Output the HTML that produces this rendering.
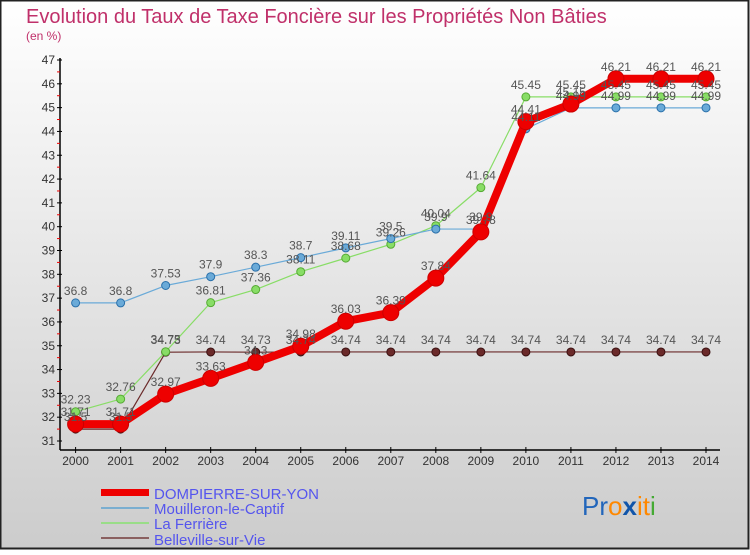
<!DOCTYPE html>
<html><head><meta charset="utf-8"><style>
html,body{margin:0;padding:0}
body{width:750px;height:550px;overflow:hidden;font-family:"Liberation Sans","DejaVu Sans",sans-serif}
</style></head><body>
<svg id="chart" width="750" height="550" xmlns="http://www.w3.org/2000/svg">
<defs><linearGradient id="bg" x1="0" y1="0" x2="0" y2="1"><stop offset="0" stop-color="#ffffff"/><stop offset="1" stop-color="#cccccc"/></linearGradient></defs>
<rect x="0.5" y="0.5" width="748" height="548" fill="url(#bg)" stroke="#222" stroke-width="2"/>
<text x="26" y="23" font-size="20" fill="#c0306a">Evolution du Taux de Taxe Foncière sur les Propriétés Non Bâties</text>
<text x="26" y="40" font-size="12" fill="#c0306a">(en %)</text>
<g id="axes"></g>
<g id="series"></g>
<g id="labels"></g>
<g font-size="15" fill="#5555ee">
<rect x="101" y="489" width="48" height="7" fill="#ee0000"/>
<text x="154" y="499">DOMPIERRE-SUR-YON</text>
<rect x="101" y="507" width="48" height="2" fill="#7aaed0"/>
<text x="154" y="514">Mouilleron-le-Captif</text>
<rect x="101" y="522" width="48" height="2" fill="#99dd88"/>
<text x="154" y="529">La Ferrière</text>
<rect x="101" y="537" width="48" height="2" fill="#8a6060"/>
<text x="154" y="545">Belleville-sur-Vie</text>
</g>
<g font-size="26">
<text x="582" y="515" fill="#2266bb"><tspan>Pr</tspan><tspan fill="#ff8800">o</tspan><tspan fill="#1155aa" font-weight="bold">x</tspan><tspan fill="#ff8800">i</tspan><tspan fill="#ff8800">t</tspan><tspan fill="#44aa33">i</tspan></text>
</g>
</svg>
<script>
const years=[2000,2001,2002,2003,2004,2005,2006,2007,2008,2009,2010,2011,2012,2013,2014];
const dompierre=[31.71,31.71,32.97,33.63,34.3,34.98,36.03,36.39,37.84,39.78,44.41,45.15,46.21,46.21,46.21];
const mouilleron=[36.8,36.8,37.53,37.9,38.3,38.7,39.11,39.5,39.9,39.9,44.11,44.99,44.99,44.99,44.99];
const ferriere=[32.23,32.76,34.75,36.81,37.36,38.11,38.68,39.26,40.04,41.64,45.45,45.45,45.45,45.45,45.45];
const belleville=[31.5,31.5,34.73,34.74,34.73,34.74,34.74,34.74,34.74,34.74,34.74,34.74,34.74,34.74,34.74];
const yTicks=[31,32,33,34,35,36,37,38,39,40,41,42,43,44,45,46,47];
const NS="http://www.w3.org/2000/svg";
const x=i=>75.6+i*(706-75.6)/14;
const y=v=>441-(v-31)*(441-60)/16;
function mk(tag,attrs,parent){const e=document.createElementNS(NS,tag);for(const k in attrs)e.setAttribute(k,attrs[k]);parent.appendChild(e);return e;}
const axes=document.getElementById('axes'),ser=document.getElementById('series'),lab=document.getElementById('labels');
let yl=mk('line',{x1:60,y1:58,x2:60,y2:450,stroke:'#000','stroke-width':1.5},axes);


let xl=mk('line',{x1:60,y1:450,x2:720,y2:450,stroke:'#000','stroke-width':1.5},axes);


yTicks.forEach((t,i)=>{
 mk('line',{x1:57,y1:y(t),x2:62,y2:y(t),stroke:'#000'},axes);
 if(i<yTicks.length-1)mk('line',{x1:57,y1:y(t+0.5),x2:60,y2:y(t+0.5),stroke:'#e00'},axes);
 const tx=mk('text',{x:55,y:y(t)+4,'font-size':12,fill:'#333','text-anchor':'end'},axes);
 tx.textContent=t;
 
 
});
years.forEach((yr,i)=>{
 mk('line',{x1:x(i),y1:447,x2:x(i),y2:453,stroke:'#000'},axes);
 const tx=mk('text',{x:x(i),y:465,'font-size':12,fill:'#333','text-anchor':'middle'},axes);
 tx.textContent=yr;
 
 
});
function series(vals,color,w,r,name,dark){
 const pts=vals.map((v,i)=>x(i)+','+y(v)).join(' ');
 const pl=mk('polyline',{points:pts,fill:'none',stroke:color,'stroke-width':w,'stroke-linejoin':'round'},ser);
 
 
 vals.forEach((v,i)=>{
  const c=mk('circle',{cx:x(i),cy:y(v),r:r,fill:color,stroke:dark,'stroke-width':1},ser);
  
  
  const t=mk('text',{x:x(i),y:y(v)-8,'font-size':12,fill:'#555','text-anchor':'middle'},lab);
  t.textContent=String(v);
  
  
 });
}
series(belleville,'#6b2a2a',1.2,4,'belleville','#3a1010');
series(ferriere,'#88dd66',1.2,4,'ferriere','#55aa33');
series(mouilleron,'#6aaad8',1.2,4,'mouilleron','#2a70aa');
series(dompierre,'#ee0000',8,8,'dompierre','#cc0000');
</script>
</body></html>
